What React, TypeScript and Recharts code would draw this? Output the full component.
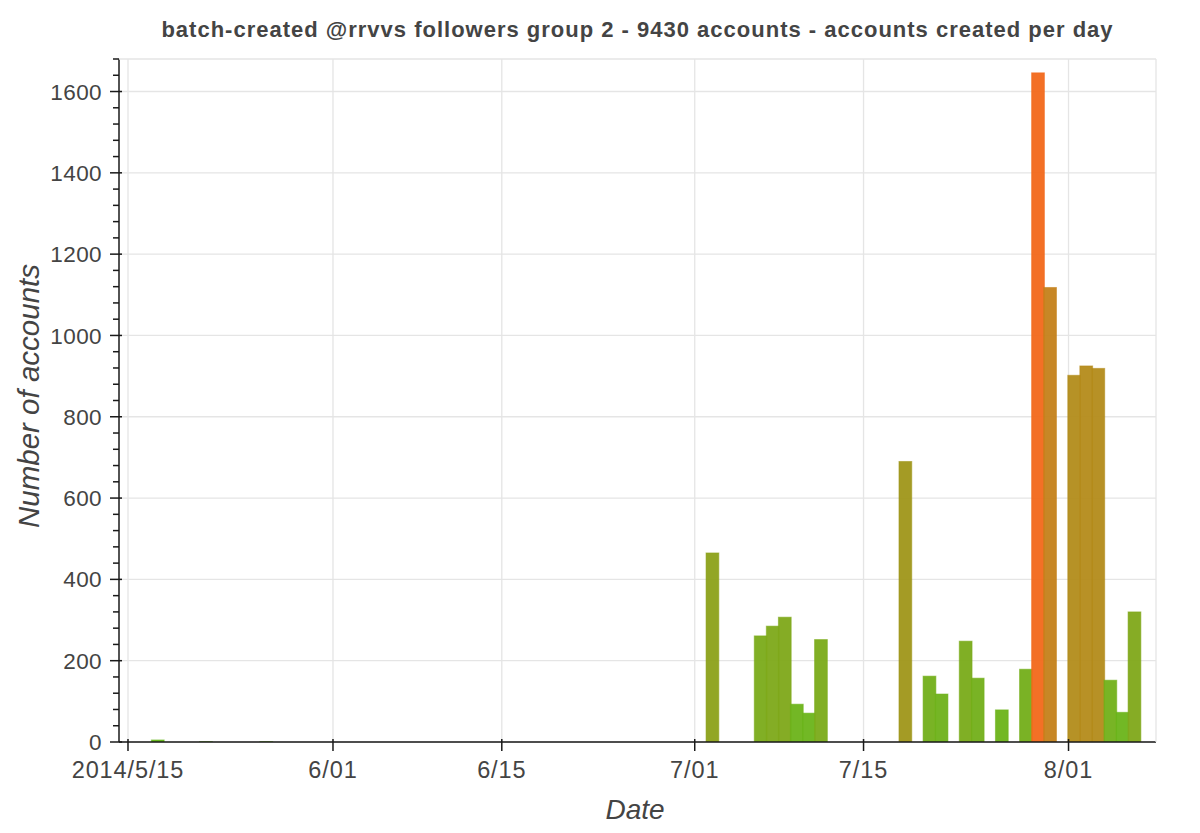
import React from 'react';
import { BarChart, Bar, XAxis, YAxis, CartesianGrid, Cell } from 'recharts';

// ---- data ----
const barDates = [
  '2014-05-17', '2014-05-21', '2014-05-26',
  '2014-07-02', '2014-07-06', '2014-07-07', '2014-07-08', '2014-07-09', '2014-07-10', '2014-07-11',
  '2014-07-18', '2014-07-20', '2014-07-21', '2014-07-23', '2014-07-24', '2014-07-26', '2014-07-28',
  '2014-07-29', '2014-07-30', '2014-08-01', '2014-08-02', '2014-08-03', '2014-08-04', '2014-08-05', '2014-08-06',
];
const barCounts = [
  5, 1, 1,
  465, 261, 285, 307, 93, 71, 252,
  690, 162, 118, 248, 157, 79, 179,
  1646, 1118, 902, 925, 919, 152, 73, 320,
];
const axisStartDate = '2014-05-15';
const axisEndDate = '2014-08-07';
const xTickDates = ['2014-05-15', '2014-06-01', '2014-06-15', '2014-07-01', '2014-07-15', '2014-08-01'];
const xTickLabels = ['2014/5/15', '6/01', '6/15', '7/01', '7/15', '8/01'];
const yMajorTicks = [0, 200, 400, 600, 800, 1000, 1200, 1400, 1600];
const yAllTicks = [
  0, 40, 80, 120, 160, 200, 240, 280, 320, 360, 400, 440, 480, 520, 560, 600, 640, 680, 720, 760, 800,
  840, 880, 920, 960, 1000, 1040, 1080, 1120, 1160, 1200, 1240, 1280, 1320, 1360, 1400, 1440, 1480,
  1520, 1560, 1600, 1640, 1680,
];
const yMax = 1680;
const title = 'batch-created @rrvvs followers group 2 - 9430 accounts - accounts created per day';
const xLabel = 'Date';
const yLabel = 'Number of accounts';

// ---- build table ----
const DAY = 86400000;
const table: { key: string; count: number }[] = [];
{
  const countByDate: Record<string, number> = {};
  barDates.forEach((d, i) => (countByDate[d] = barCounts[i]));
  const s = Date.parse(axisStartDate + 'T00:00:00Z');
  const e = Date.parse(axisEndDate + 'T00:00:00Z');
  for (let t = s; t <= e; t += DAY) {
    const key = new Date(t).toISOString().slice(0, 10);
    table.push({ key, count: countByDate[key] ?? 0 });
  }
}

// ---- style ----
const W = 1184;
const H = 817;
const PLOT_LEFT = 111;
const PLOT_RIGHT = 1148;
const PLOT_TOP = 51;
const PLOT_BOTTOM = 734;
const X_AXIS_H = 40;
const FONT = '"Liberation Sans", Arial, Helvetica, sans-serif';
const TEXT = '#444444';
const AXIS = '#1a1a1a';
const GRID = '#e5e5e5';
const BAR_SHIFT = 0.44; // fraction of a day the bars sit right of the date tick

const low = [100, 183, 25];
const high = [242, 104, 26];
const colorFor = (v: number) => {
  const t = Math.max(0, Math.min(1, v / 1650));
  const c = low.map((l, i) => Math.round(l + (high[i] - l) * t));
  return `rgb(${c[0]},${c[1]},${c[2]})`;
};

const BarShape = (props: any) => {
  const { x, y, width, height, fill } = props;
  if (!height || height <= 0) return <g />;
  return (
    <rect
      x={x + width * BAR_SHIFT}
      y={y}
      width={width + 0.8}
      height={height}
      fill={fill}
      fillOpacity={0.95}
      stroke={fill}
      strokeOpacity={0.55}
      strokeWidth={1}
    />
  );
};

const YTick = (props: any) => {
  const { x, y, payload } = props;
  const major = payload.value % 200 === 0;
  return (
    <g>
      <line x1={x - (major ? 9 : 6)} x2={x + (major ? 3 : 0)} y1={y} y2={y} stroke={AXIS} strokeWidth={1.5} />
      {major && (
        <text
          x={x - 17}
          y={y}
          dy="0.36em"
          textAnchor="end"
          fontSize={22.5}
          letterSpacing={0.4}
          fill={TEXT}
          fontFamily={FONT}
        >
          {payload.value}
        </text>
      )}
    </g>
  );
};

const XTick = (props: any) => {
  const { x, y, payload } = props;
  const idx = xTickDates.indexOf(payload.value);
  return (
    <g>
      <line x1={x} x2={x} y1={y - 3} y2={y + 9} stroke={AXIS} strokeWidth={1.5} />
      <text
        x={x}
        y={y + 36}
        textAnchor="middle"
        fontSize={23.5}
        letterSpacing={0.9}
        fill={TEXT}
        fontFamily={FONT}
      >
        {idx >= 0 ? xTickLabels[idx] : payload.value}
      </text>
    </g>
  );
};

export default function App() {
  const plotW = PLOT_RIGHT - PLOT_LEFT;
  const nCat = table.length;
  // band centres sit on midnight of each date; frame spans 5/14 06:00 .. 8/08 06:00
  const bw = plotW / (nCat + 1);
  const padLeft = 0.246 * bw;
  const padRight = plotW - nCat * bw - padLeft;
  return (
    <div style={{ position: 'relative', width: W, height: H, fontFamily: FONT }}>
      <BarChart
        width={W}
        height={H}
        data={table}
        margin={{ top: PLOT_TOP, right: W - PLOT_RIGHT, bottom: H - PLOT_BOTTOM - X_AXIS_H, left: 0 }}
        barCategoryGap={0}
        barGap={0}
      >
        <CartesianGrid
          stroke={GRID}
          strokeWidth={1.3}
          horizontalValues={yMajorTicks}
          verticalValues={xTickDates}
        />
        <XAxis
          dataKey="key"
          type="category"
          ticks={xTickDates}
          interval={0}
          padding={{ left: padLeft, right: padRight }}
          tickSize={0}
          tickMargin={0}
          tick={<XTick />}
          height={X_AXIS_H}
          axisLine={{ stroke: AXIS, strokeWidth: 1.5 }}
          tickLine={false}
        />
        <YAxis
          type="number"
          domain={[0, yMax]}
          ticks={yAllTicks}
          interval={0}
          allowDataOverflow
          width={PLOT_LEFT}
          tickSize={0}
          tickMargin={0}
          tick={<YTick />}
          axisLine={{ stroke: AXIS, strokeWidth: 1.5 }}
          tickLine={false}
        />
        <Bar dataKey="count" isAnimationActive={false} shape={<BarShape />}>
          {table.map((r) => (
            <Cell key={r.key} fill={colorFor(r.count)} />
          ))}
        </Bar>
      </BarChart>
      <svg
        width={W}
        height={H}
        style={{ position: 'absolute', left: 0, top: 0, pointerEvents: 'none' }}
      >
        <line x1={PLOT_LEFT} x2={PLOT_RIGHT} y1={PLOT_TOP} y2={PLOT_TOP} stroke={GRID} strokeWidth={1.3} />
        <line x1={PLOT_RIGHT} x2={PLOT_RIGHT} y1={PLOT_TOP} y2={PLOT_BOTTOM} stroke={GRID} strokeWidth={1.3} />
        <text
          x={(PLOT_LEFT + PLOT_RIGHT) / 2}
          y={29}
          textAnchor="middle"
          fontSize={22}
          letterSpacing={1}
          fontWeight="bold"
          fill={TEXT}
          fontFamily={FONT}
        >
          {title}
        </text>
        <text x={627} y={811} textAnchor="middle" fontSize={28} fontStyle="italic" fill={TEXT} fontFamily={FONT}>
          {xLabel}
        </text>
        <text
          x={0}
          y={0}
          transform={`translate(31, 388) rotate(-90)`}
          textAnchor="middle"
          fontSize={29.5}
          fontStyle="italic"
          fill={TEXT}
          fontFamily={FONT}
        >
          {yLabel}
        </text>
      </svg>
    </div>
  );
}
